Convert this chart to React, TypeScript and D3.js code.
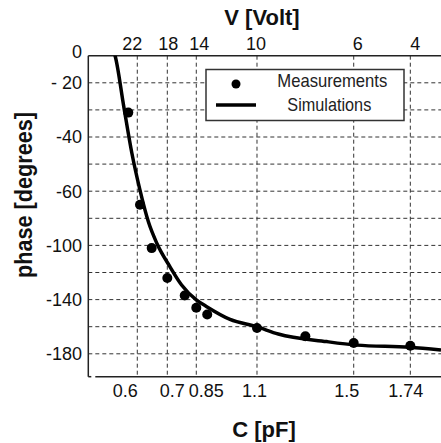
import React from "react";
import * as d3 from "d3";

// bottom axis: capacitance ticks, top axis: voltage ticks on the same gridlines
const xTickC = [0.6, 0.7, 0.85, 1.1, 1.5, 1.74];
const xTickCLabels = ["0.6", "0.7", "0.85", "1.1", "1.5", "1.74"];
const xTickVLabels = ["22", "18", "14", "10", "6", "4"];

// horizontal gridlines and the labelled subset
const yGridValues = [0, -20, -30, -40, -50, -60, -80, -100, -120, -140, -160, -180];
const yLabelValues = [0, -20, -40, -60, -100, -140, -180];
const yLabelText = ["0", "- 20", "-40", "-60", "-100", "-140", "-180"];

// measurements (dots)
const measC = [0.57, 0.609, 0.648, 0.7, 0.79, 0.85, 0.895, 1.1, 1.3, 1.5, 1.74];
const measPhase = [-31, -70, -102, -124, -137, -146, -151, -161, -167, -172, -174];

// simulation (solid line)
const simC = [0.52, 0.526, 0.555, 0.582, 0.609, 0.637, 0.665, 0.714, 0.774, 0.85, 0.893, 0.989, 1.099, 1.188, 1.388, 1.513, 1.737, 1.87];
const simPhase = [4, 0, -28.8, -46, -59.6, -82.6, -98.4, -115.8, -129.2, -140.2, -145.2, -154.6, -160, -165.4, -171, -173.6, -175.2, -177.2];

const W = 441;
const H = 443;
const left = 88.3;
const top = 55.7;
const right = 441;
const bottom = 376.7;
const pw = right - left;
const yStep = 27.1;
// where the hand-set ticks sit along the plot width
const xTickFrac = [0.1389, 0.224, 0.3062, 0.4783, 0.7525, 0.913];
// label nudges copied from the original figure
const bottomDx = [-12, 5, 10, -2.5, -7, -4.5];
const topDx = [-5, 1, 3, -1, 4, 5];

const font = "'Liberation Sans', Arial, sans-serif";

export default function App() {
  const x = d3
    .scaleLinear()
    .domain(xTickC)
    .range(xTickFrac.map((f) => left + f * pw));
  const y = d3
    .scaleLinear()
    .domain(yGridValues)
    .range(yGridValues.map((_, i) => top + i * yStep));

  const simData = simC.map((c, i) => ({ c, p: simPhase[i] }));
  const line = d3
    .line<{ c: number; p: number }>()
    .x((d) => x(d.c))
    .y((d) => y(d.p))
    .curve(d3.curveMonotoneX);

  const gridStroke = "#333";
  const dash = "4,3";

  return (
    <svg
      width={W}
      height={H}
      style={{ position: "absolute", left: 0, top: 0, background: "#fff" }}
      fontFamily={font}
    >
      <defs>
        <clipPath id="plotclip">
          <rect x={left} y={top} width={pw} height={bottom - top} />
        </clipPath>
      </defs>
      <rect width={W} height={H} fill="#fff" />

      {/* gridlines */}
      {yGridValues.slice(1).map((v) => (
        <line
          key={"gy" + v}
          x1={left}
          x2={right}
          y1={y(v)}
          y2={y(v)}
          stroke={gridStroke}
          strokeWidth={1}
          strokeDasharray={dash}
        />
      ))}
      {xTickC.map((c) => (
        <line
          key={"gx" + c}
          x1={x(c)}
          x2={x(c)}
          y1={top}
          y2={bottom}
          stroke={gridStroke}
          strokeWidth={1}
          strokeDasharray={dash}
        />
      ))}

      {/* axes frame */}
      <line x1={left} x2={right} y1={top} y2={top} stroke="#222" strokeWidth={1.5} />
      <line x1={left} x2={left} y1={top} y2={bottom} stroke="#222" strokeWidth={1.5} />
      <line x1={left} x2={left + 3} y1={bottom} y2={bottom} stroke="#222" strokeWidth={1.5} />
      <line x1={left + 7} x2={right} y1={bottom} y2={bottom} stroke="#222" strokeWidth={1.5} />

      {/* legend */}
      <rect x={206} y={69.5} width={198} height={51} fill="#fff" stroke="#333" strokeWidth={1.5} />
      <circle cx={236} cy={84} r={4.5} fill="#000" />
      <line x1={216} x2={256} y1={105} y2={105} stroke="#000" strokeWidth={3.5} />
      <text x={277.3} y={87.3} fontSize={18.5} fill="#222" textLength={110} lengthAdjust="spacingAndGlyphs">
        Measurements
      </text>
      <text x={287.3} y={110.7} fontSize={18.5} fill="#222" textLength={84} lengthAdjust="spacingAndGlyphs">
        Simulations
      </text>

      {/* data */}
      <g clipPath="url(#plotclip)">
        <path d={line(simData) || ""} fill="none" stroke="#000" strokeWidth={3.5} strokeLinejoin="round" />
        {measC.map((c, i) => (
          <circle key={"m" + i} cx={x(c)} cy={y(measPhase[i])} r={5} fill="#000" />
        ))}
      </g>

      {/* y tick labels */}
      {yLabelValues.map((v, i) => (
        <text
          key={"yl" + v}
          x={82}
          y={y(v) + (v === 0 ? -4 : 0)}
          dy="0.36em"
          textAnchor="end"
          fontSize={18}
          fill="#111"
        >
          {yLabelText[i]}
        </text>
      ))}

      {/* bottom tick labels */}
      {xTickC.map((c, i) => (
        <text key={"bl" + c} x={x(c) + bottomDx[i]} y={396.5} textAnchor="middle" fontSize={18} fill="#111">
          {xTickCLabels[i]}
        </text>
      ))}

      {/* top tick labels */}
      {xTickC.map((c, i) => (
        <text key={"tl" + c} x={x(c) + topDx[i]} y={50} textAnchor="middle" fontSize={18} fill="#111">
          {xTickVLabels[i]}
        </text>
      ))}

      {/* titles */}
      <text x={262} y={25} textAnchor="middle" fontSize={22} fontWeight="bold" fill="#111">
        V [Volt]
      </text>
      <text x={264} y={437} textAnchor="middle" fontSize={22} fontWeight="bold" fill="#111">
        C [pF]
      </text>
      <text
        transform="translate(32,195) rotate(-90)"
        textAnchor="middle"
        fontSize={24}
        fontWeight="bold"
        fill="#111"
        textLength={166}
        lengthAdjust="spacingAndGlyphs"
      >
        phase [degrees]
      </text>
    </svg>
  );
}
